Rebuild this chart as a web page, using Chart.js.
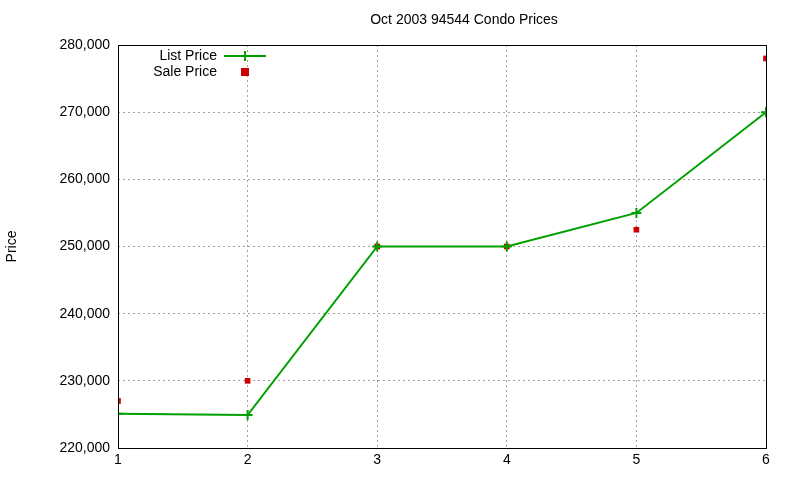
<!DOCTYPE html>
<html>
<head>
<meta charset="utf-8">
<script src="https://cdn.jsdelivr.net/npm/chart.js@4/dist/chart.umd.min.js"></script>
<style>
  body { margin: 0; background: #fff; }
  #wrap { width: 800px; height: 480px; }
</style>
</head>
<body>
<div id="wrap"><canvas id="c" width="800" height="480"></canvas></div>
<script>
const TITLE = 'Oct 2003 94544 Condo Prices';
const months = [1, 2, 3, 4, 5, 6];
const listPrice = [225100, 224900, 250000, 250000, 255000, 270000];
const salePrice = [227000, 230000, 250000, 250000, 252500, 278000];

const FONT = 'Liberation Sans, Arial, sans-serif';

const gnuplotDecor = {
  id: 'gnuplotDecor',
  afterDraw(chart) {
    const { ctx, chartArea: a } = chart;
    ctx.save();
    ctx.strokeStyle = '#000';
    ctx.lineWidth = 1;
    ctx.strokeRect(a.left + 0.5, a.top + 0.5, a.right - a.left, a.bottom - a.top);

    ctx.fillStyle = '#000';
    ctx.font = '14px ' + FONT;
    ctx.textAlign = 'center';
    ctx.textBaseline = 'middle';
    ctx.fillText(TITLE, (a.left + a.right) / 2 + 22, 20);

    // legend
    ctx.textAlign = 'right';
    ctx.fillText('List Price', 217, 56);
    ctx.fillText('Sale Price', 217, 72);
    ctx.strokeStyle = '#00a000';
    ctx.lineWidth = 2;
    ctx.beginPath();
    ctx.moveTo(224, 56); ctx.lineTo(266, 56);
    ctx.moveTo(245, 51); ctx.lineTo(245, 61);
    ctx.stroke();
    ctx.fillStyle = '#cc0000';
    ctx.fillRect(241, 68, 8, 8);
    ctx.restore();
  }
};

new Chart(document.getElementById('c'), {
  type: 'line',
  data: {
    datasets: [
      {
        label: 'List Price',
        data: months.map((m, i) => ({ x: m, y: listPrice[i] })),
        borderColor: '#00a000',
        borderWidth: 2,
        pointStyle: 'cross',
        pointRadius: 5,
        pointBorderWidth: 2,
        pointBorderColor: '#00a000',
        tension: 0,
        fill: false
      },
      {
        label: 'Sale Price',
        data: months.map((m, i) => ({ x: m, y: salePrice[i] })),
        showLine: false,
        pointStyle: 'rect',
        pointRadius: 4,
        pointBackgroundColor: '#cc0000',
        pointBorderColor: '#cc0000',
        pointBorderWidth: 0
      }
    ]
  },
  options: {
    responsive: false,
    animation: false,
    layout: { padding: { top: 45, right: 34, left: 0, bottom: 0 } },
    plugins: { legend: { display: false }, title: { display: false }, tooltip: { enabled: false } },
    scales: {
      x: {
        type: 'linear', min: 1, max: 6,
        ticks: { stepSize: 1, color: '#000', font: { family: FONT, size: 14 }, padding: 4 },
        grid: { color: '#a0a0a0', tickLength: 0, borderDash: [2, 3] },
        border: { dash: [2, 3], display: false },
        afterFit(s) { s.height = 32; }
      },
      y: {
        min: 220000, max: 280000,
        ticks: { stepSize: 10000, color: '#000', font: { family: FONT, size: 14 }, padding: 8 },
        grid: { color: '#a0a0a0', tickLength: 0 },
        border: { dash: [2, 3], display: false },
        title: { display: true, text: 'Price', color: '#000', font: { family: FONT, size: 14 }, padding: { bottom: 30 } },
        afterFit(s) { s.width = 118; }
      }
    }
  },
  plugins: [gnuplotDecor]
});
</script>
</body>
</html>
